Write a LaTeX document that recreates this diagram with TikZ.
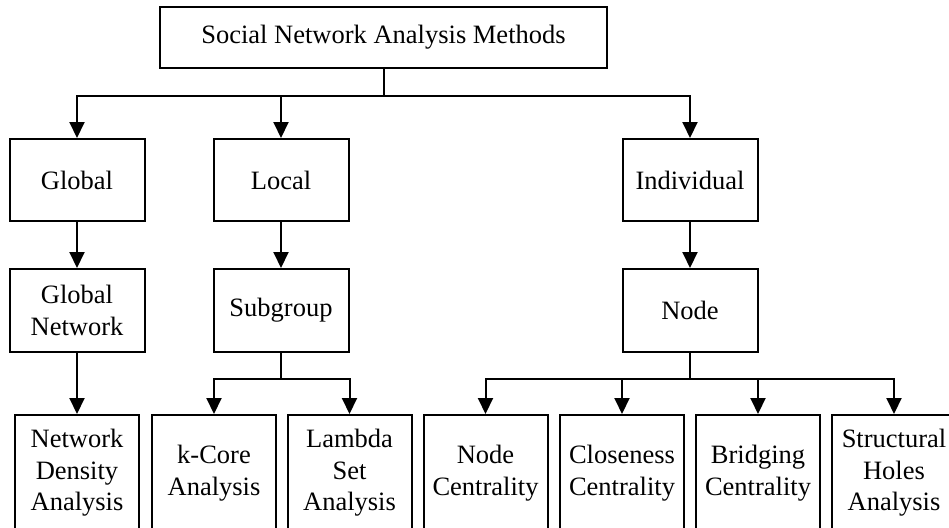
\documentclass[tikz,border=0pt]{standalone}
\usepackage{fontspec}
\setmainfont{Liberation Serif}
\usetikzlibrary{arrows.meta}
\begin{document}
\begin{tikzpicture}[x=1pt,y=-1pt,
  box/.style={draw,line width=2pt,rectangle,inner sep=0pt,align=center,
    font=\fontsize{26.5}{31.5}\selectfont},
  rowone/.style={box,minimum width=135pt,minimum height=82pt},
  rowtwo/.style={box,minimum width=135pt,minimum height=83pt},
  leaf/.style={box,minimum width=124pt,minimum height=116pt},
  arr/.style={line width=2pt,-{Triangle[length=16pt,width=15pt]}},
  ln/.style={line width=2pt}]
\useasboundingbox (0,0) rectangle (949,527);
\clip (0,0) rectangle (949,527);
\node[box,minimum width=447pt,minimum height=61pt] (top) at (383.5,37.5) {Social Network Analysis Methods};
\node[rowone] (glob) at (77,180) {Global};
\node[rowone] (loc) at (281,180) {Local};
\node[rowone] (ind) at (690,180) {Individual};
\node[rowtwo] (gnet) at (77,310.5) {Global\\Network};
\node[rowtwo] (sub) at (281,310.5) {Subgroup};
\node[rowtwo] (nod) at (690,310.5) {Node};
\node[leaf] (nda) at (77,473) {Network\\Density\\Analysis};
\node[leaf] (kca) at (214,473) {k-Core\\Analysis};
\node[leaf] (lsa) at (349.5,473) {Lambda\\Set\\Analysis};
\node[leaf] (nc) at (485.5,473) {Node\\Centrality};
\node[leaf] (cc) at (622,473) {Closeness\\Centrality};
\node[leaf] (bc) at (758,473) {Bridging\\Centrality};
\node[leaf] (sha) at (894,473) {Structural\\Holes\\Analysis};
\coordinate (b1) at (383.5,96);
\coordinate (b2) at (281,379);
\coordinate (b3) at (690,379);
\draw[ln] (top.south) -- (top.south |- b1);
\draw[arr] (top.south |- b1) -| (glob.north);
\draw[arr] (top.south |- b1) -| (loc.north);
\draw[arr] (top.south |- b1) -| (ind.north);
\draw[arr] (glob.south) -- (gnet.north);
\draw[arr] (loc.south) -- (sub.north);
\draw[arr] (ind.south) -- (nod.north);
\draw[arr] (gnet.south) -- (nda.north);
\draw[ln] (sub.south) -- (b2);
\draw[arr] (b2) -| (kca.north);
\draw[arr] (b2) -| (lsa.north);
\draw[ln] (nod.south) -- (b3);
\draw[arr] (b3) -| (nc.north);
\draw[arr] (b3) -| (cc.north);
\draw[arr] (b3) -| (bc.north);
\draw[arr] (b3) -| (sha.north);
\end{tikzpicture}
\end{document}
